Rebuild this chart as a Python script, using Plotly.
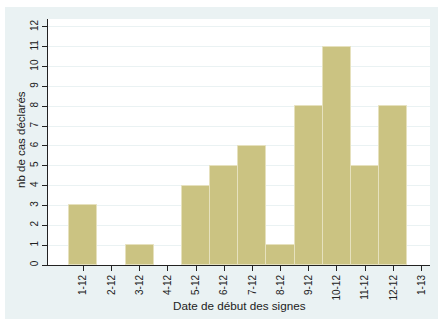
import plotly.graph_objects as go

months = [1, 2, 3, 4, 5, 6, 7, 8, 9, 10, 11, 12]
cases = [3, 0, 1, 0, 4, 5, 6, 1, 8, 11, 5, 8]
tick_vals = [1, 2, 3, 4, 5, 6, 7, 8, 9, 10, 11, 12, 13]
tick_text = ["1-12", "2-12", "3-12", "4-12", "5-12", "6-12", "7-12", "8-12",
             "9-12", "10-12", "11-12", "12-12", "1-13"]
y_ticks = list(range(0, 13))

W, H = 438, 319
L, R, T, B = 48, 8, 19, 54
pw = W - L - R
ph = H - T - B

fig = go.Figure()
fig.add_trace(go.Bar(
    x=months, y=[v if v > 0 else None for v in cases], width=1,
    marker=dict(color="#CBC382", line=dict(color="#E6E1BE", width=1)),
    hoverinfo="skip",
))

# white outer strips (top and left)
fig.add_shape(type="rect", xref="paper", yref="paper", layer="above",
              x0=-L / pw - 0.05, x1=(W - L) / pw + 0.05,
              y0=(H - B - 7) / ph, y1=(H - B) / ph + 0.05,
              fillcolor="white", line=dict(width=0))
fig.add_shape(type="rect", xref="paper", yref="paper", layer="above",
              x0=-L / pw - 0.05, x1=(5 - L) / pw,
              y0=-B / ph - 0.05, y1=(H - B) / ph + 0.05,
              fillcolor="white", line=dict(width=0))

fig.add_annotation(text="Date de début des signes", xref="paper", yref="paper",
                   x=0.5, y=-(305 - (H - B)) / ph, showarrow=False,
                   font=dict(size=11.7, color="#222222"), xanchor="center", yanchor="middle")
fig.add_annotation(text="nb de cas déclarés", xref="paper", yref="paper",
                   x=(21 - L) / pw, y=(H - B - 139) / ph, showarrow=False, textangle=-90,
                   font=dict(size=11.5, color="#222222"), xanchor="center", yanchor="middle")

fig.update_layout(
    width=W, height=H,
    margin=dict(l=L, r=R, t=T, b=B, autoexpand=False),
    paper_bgcolor="#EAF2F3", plot_bgcolor="white",
    font=dict(family="Liberation Sans, Arial", size=10, color="#222222"),
    showlegend=False,
    bargap=0,
)
fig.update_xaxes(
    range=[-0.25, 13.3], tickmode="array", tickvals=tick_vals, ticktext=tick_text,
    tickangle=-90, ticks="outside", ticklen=5, tickcolor="#222222",
    showline=True, linecolor="#222222", linewidth=1, showgrid=False, zeroline=False,
    automargin=False, tickfont=dict(size=10, color="#222222"),
)
fig.update_yaxes(
    range=[0, 12.4], tickmode="array", tickvals=y_ticks,
    tickangle=-90, ticks="outside", ticklen=5, tickcolor="#222222",
    showline=True, linecolor="#222222", linewidth=1,
    showgrid=True, gridcolor="#EAF2F3", gridwidth=1, zeroline=False,
    automargin=False, tickfont=dict(size=10, color="#222222"),
)

fig.write_html("out.html", config={"displayModeBar": False},
               post_script="document.body.style.margin='0px';document.body.style.overflow='hidden';")
